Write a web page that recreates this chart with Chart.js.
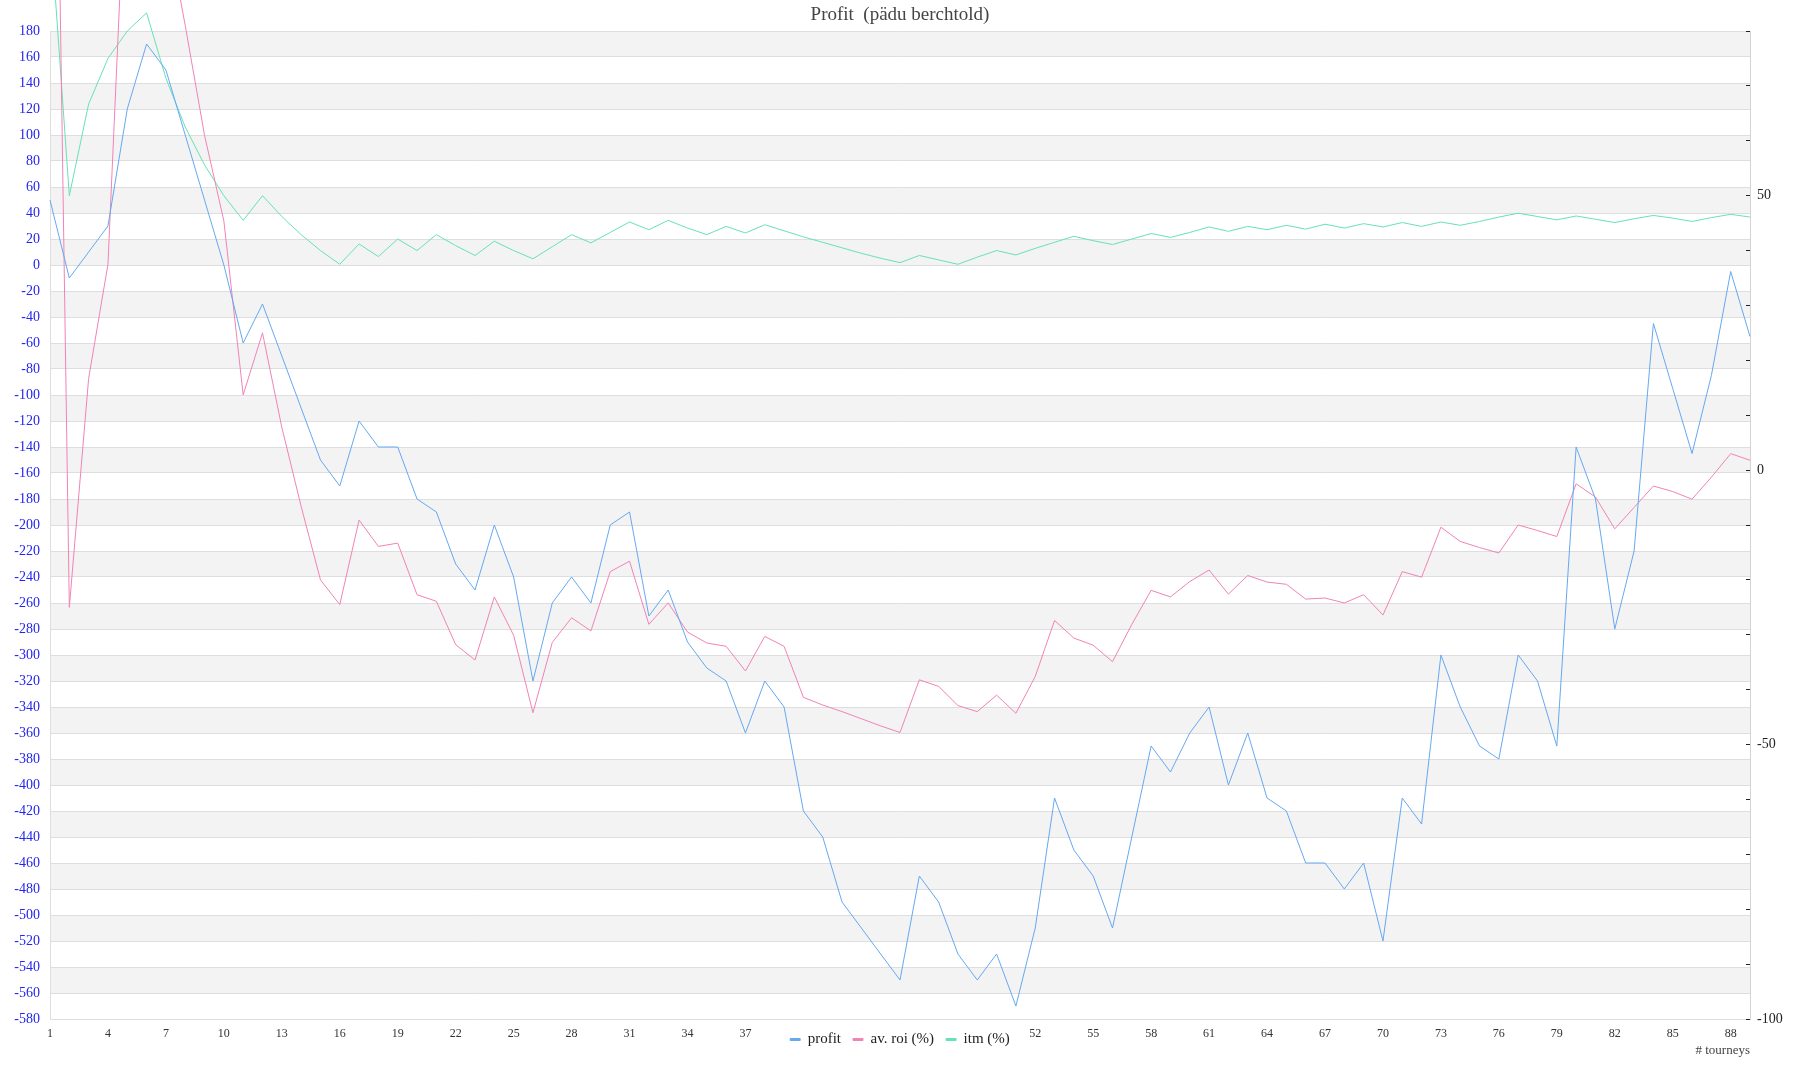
<!DOCTYPE html>
<html>
<head>
<meta charset="utf-8">
<title>Profit</title>
<script src="https://cdn.jsdelivr.net/npm/chart.js@4.4.1/dist/chart.umd.min.js"></script>
<style>
  html, body { margin: 0; padding: 0; background: #fff; }
  canvas { display: block; }
</style>
</head>
<body>
<canvas id="chart" width="1800" height="1080"></canvas>
<script>
// DATA
const tourneys = Array.from({ length: 89 }, (_, i) => String(i + 1));

// x labels the legend does not cover
const shownTicks = ["1", "4", "7", "10", "13", "16", "19", "22", "25", "28", "31", "34", "37",
  "52", "55", "58", "61", "64", "67", "70", "73", "76", "79", "82", "85", "88"];

const profit = [
  50, -10, 10, 30, 120, 170, 150, 100, 50, 0,
  -60, -30, -70, -110, -150, -170, -120, -140, -140, -180,
  -190, -230, -250, -200, -240, -320, -260, -240, -260, -200,
  -190, -270, -250, -290, -310, -320, -360, -320, -340, -420,
  -440, -490, -510, -530, -550, -470, -490, -530, -550, -530,
  -570, -510, -410, -450, -470, -510, -440, -370, -390, -360,
  -340, -400, -360, -410, -420, -460, -460, -480, -460, -520,
  -410, -430, -300, -340, -370, -380, -300, -320, -370, -140,
  -180, -280, -220, -45, -95, -145, -85, -5, -55
];

const avRoi = [
  208, -25, 16.7, 37.5, 117, 125, 100, 81, 61, 45.4,
  13.7, 25, 7.8, -6.6, -20, -24.5, -9.1, -13.9, -13.3, -22.7,
  -23.9, -31.8, -34.6, -23.1, -30.1, -44.2, -31.4, -26.9, -29.3, -18.5,
  -16.6, -28.1, -24.2, -29.5, -31.5, -32.1, -36.6, -30.3, -32.1, -41.4,
  -42.8, -44.0, -45.3, -46.6, -47.8, -38.2, -39.4, -42.9, -44.0, -41.0,
  -44.3, -37.6, -27.4, -30.6, -31.9, -34.9, -28.1, -21.9, -23.1, -20.3,
  -18.2, -22.6, -19.2, -20.4, -20.8, -23.5, -23.3, -24.2, -22.7, -26.4,
  -18.5, -19.5, -10.4, -13.0, -14.1, -15.1, -10.0, -11.0, -12.1, -2.5,
  -4.9, -10.7, -6.8, -2.9, -3.9, -5.3, -1.3, 3.0, 1.8
];

const itm = [
  100, 50, 66.7, 75, 80, 83.3, 71.4, 62.5, 55.6, 50,
  45.5, 50, 46.2, 42.9, 40, 37.5, 41.2, 38.9, 42.1, 40,
  42.9, 40.9, 39.1, 41.7, 40, 38.5, 40.7, 42.9, 41.4, 43.3,
  45.2, 43.8, 45.5, 44.1, 42.9, 44.4, 43.2, 44.7, 43.6, 42.5,
  41.5, 40.5, 39.5, 38.6, 37.8, 39.1, 38.3, 37.5, 38.8, 40,
  39.2, 40.4, 41.5, 42.6, 41.8, 41.1, 42.1, 43.1, 42.4, 43.3,
  44.3, 43.5, 44.4, 43.8, 44.6, 43.9, 44.8, 44.1, 44.9, 44.3,
  45.1, 44.4, 45.2, 44.6, 45.3, 46.1, 46.8, 46.2, 45.6, 46.3,
  45.7, 45.1, 45.8, 46.4, 45.9, 45.3, 46, 46.6, 46.1
];

const FONT = "'Liberation Serif', 'Times New Roman', serif";

// PLUGINS
// white page + alternating grey bands behind the grid
const bands = {
  id: "bands",
  beforeDraw(chart) {
    const { ctx, chartArea: a } = chart;
    const y = chart.scales.y;
    ctx.save();
    ctx.fillStyle = "#fff";
    ctx.fillRect(0, 0, chart.width, chart.height);
    ctx.fillStyle = "#f3f3f3";
    for (let i = y.ticks.length - 1; i > 0; i -= 2) {
      const top = y.getPixelForValue(y.ticks[i].value);
      const bottom = y.getPixelForValue(y.ticks[i - 1].value);
      ctx.fillRect(a.left, top, a.right - a.left, bottom - top);
    }
    ctx.restore();
  }
};

// the legend sits on the row of x labels
const legendUp = {
  id: "legendUp",
  afterLayout(chart) {
    const lg = chart.legend;
    const h = lg.bottom - lg.top;
    lg.top = chart.chartArea.bottom + 1;
    lg.bottom = lg.top + h;
  }
};

// CHART
const ctx = document.getElementById("chart").getContext("2d");

const chart = new Chart(ctx, {
  type: "line",
  data: {
    labels: tourneys,
    datasets: [
      {
        label: "profit",
        data: profit,
        yAxisID: "y",
        borderColor: "#65a9f2",
        backgroundColor: "#65a9f2",
        borderWidth: 1,
        pointRadius: 0,
        clip: false
      },
      {
        label: "av. roi (%)",
        data: avRoi,
        yAxisID: "y1",
        borderColor: "#f283b6",
        backgroundColor: "#f283b6",
        borderWidth: 1,
        pointRadius: 0,
        clip: false
      },
      {
        label: "itm (%)",
        data: itm,
        yAxisID: "y1",
        borderColor: "#66e3b4",
        backgroundColor: "#66e3b4",
        borderWidth: 1,
        pointRadius: 0,
        clip: false
      }
    ]
  },
  options: {
    responsive: false,
    animation: false,
    devicePixelRatio: 1,
    events: [],
    layout: { padding: 0 },
    plugins: {
      title: {
        display: true,
        text: "Profit  (pädu berchtold)",
        color: "#444",
        font: { family: FONT, size: 19, weight: "normal" },
        padding: { top: 3.5, bottom: 4.7 }
      },
      legend: {
        position: "bottom",
        labels: {
          color: "#222",
          font: { family: FONT, size: 15 },
          boxWidth: 10,
          boxHeight: 2,
          padding: 12
        }
      },
      tooltip: { enabled: false }
    },
    scales: {
      x: {
        type: "category",
        offset: false,
        grid: { display: false },
        border: { display: false },
        ticks: {
          autoSkip: false,
          maxRotation: 0,
          padding: 0,
          color: "#333",
          font: { family: FONT, size: 12 },
          callback: function (val) {
            const lab = this.getLabelForValue(val);
            return shownTicks.includes(lab) ? lab : "";
          }
        },
        title: {
          display: true,
          text: "# tourneys",
          align: "end",
          color: "#444",
          font: { family: FONT, size: 13 },
          padding: { top: 0, bottom: -15 }
        },
        afterFit: (s) => { s.height = 24; }
      },
      y: {
        position: "left",
        min: -580,
        max: 180,
        grid: { color: "#dedede", drawTicks: false },
        border: { color: "#dedede" },
        ticks: {
          stepSize: 20,
          padding: 10,
          color: "#2424f0",
          font: { family: FONT, size: 14 }
        },
        afterFit: (s) => { s.width = 50; }
      },
      y1: {
        position: "right",
        min: -100,
        max: 80,
        grid: {
          drawOnChartArea: false,
          tickLength: -4,
          tickColor: "#222"
        },
        border: { color: "#d4d4d4" },
        ticks: {
          stepSize: 10,
          padding: 11,
          color: "#222",
          font: { family: FONT, size: 14 },
          callback: (v) => (v % 50 === 0 ? String(v) : "")
        },
        afterFit: (s) => { s.width = 50; }
      }
    }
  },
  plugins: [bands, legendUp]
});
</script>
</body>
</html>
